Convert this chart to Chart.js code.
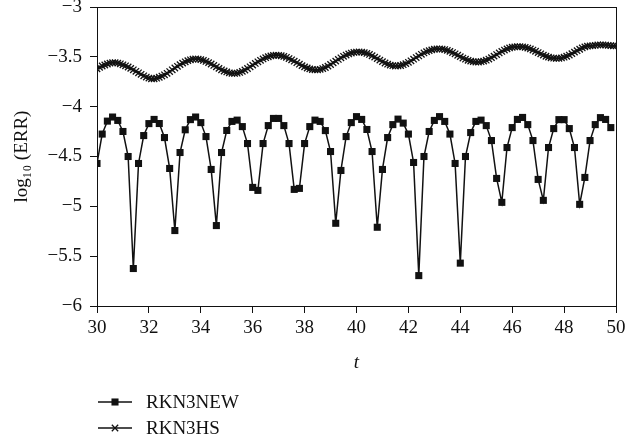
<!DOCTYPE html>
<html>
<head>
<meta charset="utf-8">
<script src="https://cdn.jsdelivr.net/npm/chart.js@4/dist/chart.umd.min.js"></script>
<style>
  html, body { margin: 0; padding: 0; background: #fff; }
  #wrap { width: 625px; height: 445px; }
</style>
</head>
<body>
<div id="wrap"><canvas id="errChart" width="625" height="445"></canvas></div>
<script>
// --- data ---

// series labels
const seriesNames = ['RKN3NEW', 'RKN3HS'];

// RKN3NEW: log10(ERR), one value every 0.2 from t = 30.0 to 49.8
const newErr = [
  -4.57, -4.275, -4.145, -4.104, -4.138, -4.249, -4.50, -5.624, -4.57, -4.29,
  -4.17, -4.128, -4.169, -4.31, -4.62, -5.243, -4.46, -4.232, -4.13, -4.104,
  -4.16, -4.30, -4.63, -5.193, -4.46, -4.239, -4.148, -4.135, -4.20, -4.37,
  -4.81, -4.84, -4.37, -4.19, -4.118, -4.118, -4.19, -4.37, -4.83, -4.82,
  -4.37, -4.20, -4.135, -4.148, -4.24, -4.45, -5.17, -4.64, -4.30, -4.16,
  -4.10, -4.128, -4.229, -4.45, -5.21, -4.63, -4.31, -4.18, -4.125, -4.165,
  -4.275, -4.56, -5.695, -4.50, -4.249, -4.138, -4.10, -4.148, -4.275, -4.57,
  -5.57, -4.50, -4.26, -4.148, -4.135, -4.19, -4.34, -4.72, -4.96, -4.41,
  -4.21, -4.128, -4.108, -4.18, -4.34, -4.73, -4.94, -4.41, -4.22, -4.13,
  -4.13, -4.22, -4.41, -4.98, -4.71, -4.34, -4.18, -4.11, -4.128, -4.21
];

// RKN3HS: log10(ERR), one value every 0.1 from t = 30.0 to 50.0
const hsErr = [
  -3.620, -3.605, -3.592, -3.582, -3.572, -3.563, -3.558, -3.558, -3.563, -3.570,
  -3.580, -3.590, -3.602, -3.616, -3.630, -3.645, -3.660, -3.675, -3.690, -3.703,
  -3.713, -3.720, -3.720, -3.714, -3.705, -3.693, -3.680, -3.665, -3.648, -3.630,
  -3.612, -3.595, -3.578, -3.563, -3.550, -3.538, -3.530, -3.524, -3.521, -3.523,
  -3.528, -3.536, -3.546, -3.558, -3.572, -3.586, -3.601, -3.616, -3.630, -3.642,
  -3.652, -3.660, -3.665, -3.667, -3.664, -3.657, -3.646, -3.632, -3.617, -3.600,
  -3.583, -3.566, -3.550, -3.535, -3.521, -3.509, -3.499, -3.491, -3.486, -3.484,
  -3.485, -3.489, -3.496, -3.505, -3.517, -3.530, -3.544, -3.559, -3.574, -3.588,
  -3.601, -3.612, -3.621, -3.627, -3.630, -3.630, -3.626, -3.618, -3.607, -3.593,
  -3.577, -3.560, -3.543, -3.526, -3.510, -3.495, -3.482, -3.471, -3.462, -3.456,
  -3.452, -3.451, -3.453, -3.458, -3.466, -3.476, -3.489, -3.503, -3.518, -3.533,
  -3.548, -3.562, -3.574, -3.583, -3.589, -3.592, -3.591, -3.587, -3.579, -3.568,
  -3.555, -3.540, -3.524, -3.507, -3.491, -3.475, -3.461, -3.448, -3.438, -3.430,
  -3.424, -3.421, -3.420, -3.422, -3.427, -3.435, -3.445, -3.457, -3.470, -3.484,
  -3.498, -3.512, -3.524, -3.535, -3.543, -3.549, -3.552, -3.552, -3.549, -3.543,
  -3.534, -3.522, -3.508, -3.493, -3.477, -3.461, -3.446, -3.432, -3.420, -3.411,
  -3.404, -3.400, -3.398, -3.398, -3.400, -3.405, -3.412, -3.421, -3.432, -3.444,
  -3.457, -3.470, -3.483, -3.494, -3.503, -3.510, -3.514, -3.516, -3.515, -3.511,
  -3.504, -3.494, -3.482, -3.468, -3.453, -3.438, -3.424, -3.411, -3.400, -3.393,
  -3.390, -3.388, -3.384, -3.381, -3.380, -3.380, -3.382, -3.385, -3.388, -3.390,
  -3.390
];

// axis ticks
const xTicks = [30, 32, 34, 36, 38, 40, 42, 44, 46, 48, 50];
const yTicks = [-6, -5.5, -5, -4.5, -4, -3.5, -3];

// sampling grids (time steps of the two methods)
const newTimes = newErr.map((_, i) => +(30 + 0.2 * i).toFixed(1));
const hsTimes = hsErr.map((_, i) => +(30 + 0.1 * i).toFixed(1));

const FONT = '"Liberation Serif", "DejaVu Serif", serif';
const INK = '#111';

// box around the plot area (top and right sides too)
const framePlugin = {
  id: 'frame',
  afterDatasetsDraw(chart) {
    const { ctx, chartArea: a } = chart;
    ctx.save();
    ctx.strokeStyle = INK;
    ctx.lineWidth = 1;
    ctx.strokeRect(Math.round(a.left) + 0.5, Math.round(a.top) + 0.5,
      Math.round(a.right - a.left), Math.round(a.bottom - a.top));
    ctx.restore();
  }
};

// legend stacked under the x axis, line + marker + label
const stackedLegend = {
  id: 'stackedLegend',
  afterDraw(chart) {
    const ctx = chart.ctx;
    const rows = [402, 428];
    ctx.save();
    chart.data.datasets.forEach((ds, i) => {
      const y = rows[i];
      ctx.strokeStyle = INK;
      ctx.fillStyle = INK;
      ctx.lineWidth = 1.5;
      ctx.beginPath();
      ctx.moveTo(98, y);
      ctx.lineTo(132, y);
      ctx.stroke();
      ctx.lineWidth = ds.pointBorderWidth;
      Chart.helpers.drawPoint(ctx, {
        pointStyle: ds.pointStyle,
        radius: ds.pointRadius,
        borderWidth: ds.pointBorderWidth
      }, 115, y);
      ctx.font = '19px ' + FONT;
      ctx.textBaseline = 'middle';
      ctx.textAlign = 'left';
      ctx.fillText(ds.label, 146, y + 1);
    });
    ctx.restore();
  }
};

const minus = v => String(v).replace('-', '\u2212');

new Chart(document.getElementById('errChart'), {
  type: 'line',
  data: {
    datasets: [
      {
        label: seriesNames[0],
        data: newTimes.map((t, i) => ({ x: t, y: newErr[i] })),
        borderColor: INK,
        backgroundColor: INK,
        borderWidth: 1.5,
        pointStyle: 'rect',
        pointRadius: 5,
        pointBorderWidth: 0,
        pointBackgroundColor: INK,
        pointBorderColor: INK,
        tension: 0,
        fill: false
      },
      {
        label: seriesNames[1],
        data: hsTimes.map((t, i) => ({ x: t, y: hsErr[i] })),
        borderColor: INK,
        backgroundColor: INK,
        borderWidth: 1.5,
        pointStyle: 'crossRot',
        pointRadius: 4.5,
        pointBorderWidth: 1.3,
        pointBorderColor: INK,
        tension: 0,
        fill: false
      }
    ]
  },
  options: {
    responsive: false,
    animation: false,
    events: [],
    layout: { padding: { left: 0, right: 9, top: 7, bottom: 67 } },
    plugins: {
      legend: { display: false },
      tooltip: { enabled: false }
    },
    scales: {
      x: {
        type: 'linear',
        min: 30,
        max: 50,
        afterBuildTicks: s => { s.ticks = xTicks.map(v => ({ value: v })); },
        afterFit: s => { s.height = 72; s.paddingLeft = 0; s.paddingRight = 0; },
        ticks: { color: INK, font: { family: FONT, size: 19 }, padding: 4, maxRotation: 0 },
        grid: { display: true, drawOnChartArea: false, drawTicks: true, tickLength: 7, color: INK },
        border: { display: true, color: INK, width: 1 },
        title: {
          display: true,
          text: 't',
          color: INK,
          font: { family: FONT, size: 19, style: 'italic' },
          padding: { top: 12, bottom: 4 }
        }
      },
      y: {
        min: -6,
        max: -3,
        afterBuildTicks: s => { s.ticks = yTicks.map(v => ({ value: v })); },
        afterFit: s => { s.width = 97; s.paddingTop = 0; s.paddingBottom = 0; },
        ticks: { color: INK, font: { family: FONT, size: 19 }, padding: 8, callback: v => minus(v) },
        grid: { display: true, drawOnChartArea: false, drawTicks: true, tickLength: 7, color: INK },
        border: { display: true, color: INK, width: 1 },
        title: {
          display: true,
          text: 'log\u2081\u2080 (ERR)',
          color: INK,
          font: { family: FONT, size: 19 },
          padding: { top: 11, bottom: 0 }
        }
      }
    }
  },
  plugins: [framePlugin, stackedLegend]
});
</script>
</body>
</html>
